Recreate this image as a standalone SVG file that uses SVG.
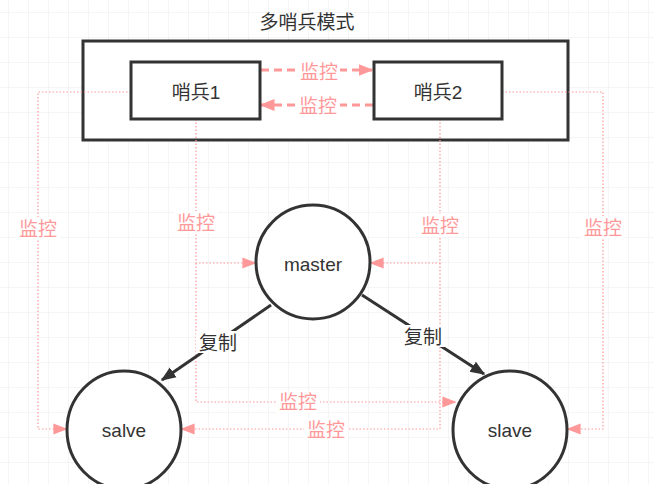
<svg xmlns="http://www.w3.org/2000/svg" width="654" height="484" viewBox="0 0 654 484">
<defs>
<pattern id="grid" width="20" height="25" patternUnits="userSpaceOnUse" x="8" y="12">
<path d="M0 0H20M0 0V25" fill="none" stroke="#ebebeb" stroke-width="1"/>
</pattern>
<marker id="pa" viewBox="0 0 10 10" refX="9" refY="5" markerWidth="5" markerHeight="5" orient="auto"><path d="M0 1L10 5L0 9Z" fill="#FF9999"/></marker>
<marker id="pb" viewBox="0 0 10 10" refX="9" refY="5" markerWidth="14" markerHeight="14" orient="auto" markerUnits="userSpaceOnUse"><path d="M0 1L10 5L0 9Z" fill="#FF9999"/></marker>
<marker id="ba" viewBox="0 0 10 10" refX="9" refY="5" markerWidth="5" markerHeight="5" orient="auto"><path d="M0 1L10 5L0 9Z" fill="#333"/></marker>
</defs>
<style>
.n{fill:#fff;stroke:#333;stroke-width:3}
.t{font-family:"Liberation Sans","Noto Sans CJK SC",sans-serif;font-size:19px;fill:#333;text-anchor:middle;dominant-baseline:central}
.p{font-family:"Liberation Sans","Noto Sans CJK SC",sans-serif;font-size:19px;fill:#FF9999;text-anchor:middle;dominant-baseline:central}
.d{fill:none;stroke:#FF9999;stroke-width:1.2;stroke-dasharray:1.5 2;marker-end:url(#pb)}
.lb{fill:#fff}
</style>
<rect width="654" height="484" fill="#fff"/>
<rect width="654" height="484" fill="url(#grid)"/>
<g id="group">
<rect x="83" y="41" width="485" height="99" class="n"/>
<text x="307" y="22" class="t">多哨兵模式</text>
</g>
<g id="connectors">
<path class="d" d="M131 92H38V429H66"/>
<path class="d" d="M502 92H603V429H568"/>
<path class="d" d="M196 119V263H255"/>
<path class="d" d="M196 263V402H455"/>
<path class="d" d="M440 119V263H371"/>
<path class="d" d="M440 263V429H182"/>
<path d="M261 70H372" fill="none" stroke="#FF9999" stroke-width="3" stroke-dasharray="8 5" marker-end="url(#pa)"/>
<path d="M373 105H261" fill="none" stroke="#FF9999" stroke-width="3" stroke-dasharray="8 5" marker-end="url(#pa)"/>
<path d="M271 305L162 380" fill="none" stroke="#333" stroke-width="3" marker-end="url(#ba)"/>
<path d="M362 295L484 374" fill="none" stroke="#333" stroke-width="3" marker-end="url(#ba)"/>
<rect class="lb" x="296" y="60" width="44" height="22"/><text x="319" y="72" class="p">监控</text>
<rect class="lb" x="296" y="94" width="44" height="22"/><text x="318" y="106" class="p">监控</text>
<rect class="lb" x="16" y="217" width="44" height="22"/><text x="38" y="229" class="p">监控</text>
<rect class="lb" x="174" y="211" width="44" height="22"/><text x="196" y="223" class="p">监控</text>
<rect class="lb" x="418" y="214" width="44" height="22"/><text x="440" y="226" class="p">监控</text>
<rect class="lb" x="581" y="216" width="44" height="22"/><text x="603" y="228" class="p">监控</text>
<rect class="lb" x="276" y="391" width="44" height="22"/><text x="298" y="402" class="p">监控</text>
<rect class="lb" x="304" y="418" width="44" height="22"/><text x="326" y="430" class="p">监控</text>
<rect class="lb" x="196" y="331" width="44" height="22"/><text x="218" y="343" class="t">复制</text>
<rect class="lb" x="401" y="325" width="44" height="22"/><text x="423" y="337" class="t">复制</text>
</g>
<g id="s1"><rect x="131" y="62" width="129" height="57" class="n"/><text x="196" y="92" class="t">哨兵1</text></g>
<g id="s2"><rect x="374" y="62" width="128" height="57" class="n"/><text x="438" y="92" class="t">哨兵2</text></g>
<g id="master"><ellipse cx="313" cy="262" rx="57" ry="57" class="n"/><text x="313" y="264" class="t">master</text></g>
<g id="salve"><ellipse cx="124" cy="430" rx="57" ry="59" class="n"/><text x="124" y="430" class="t">salve</text></g>
<g id="slave"><ellipse cx="510" cy="430" rx="57" ry="59" class="n"/><text x="510" y="430" class="t">slave</text></g>
</svg>
